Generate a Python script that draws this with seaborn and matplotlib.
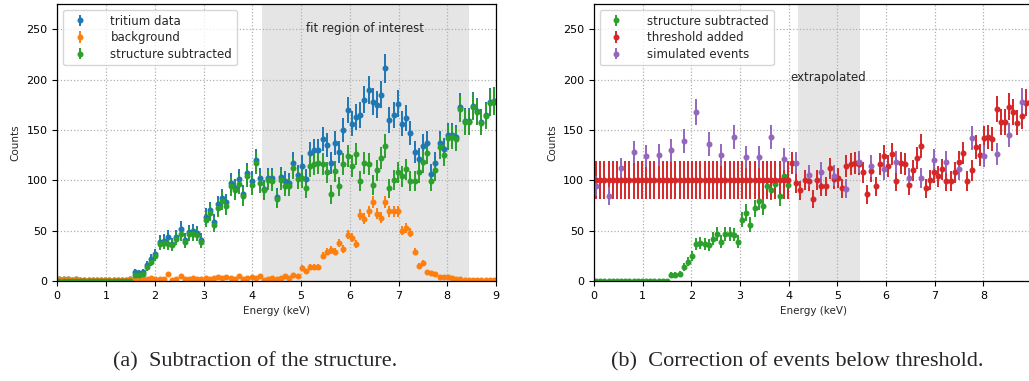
import numpy as np
import matplotlib
matplotlib.use("Agg")
import matplotlib.pyplot as plt
import seaborn as sns

# energy binning: 105 bins between 0 and 9 keV
bin_edges = np.linspace(0, 9, 106)
energy = 0.5 * (bin_edges[1:] + bin_edges[:-1])

tritium = [2, 2, 2, 1, 2, 1, 1, 1, 1, 1, 1, 1, 1, 1, 1, 1, 1, 2,
           9, 8, 9, 16, 22, 27, 39, 40, 44, 37, 44, 52,
           41, 49, 50, 48, 41, 64, 70, 59, 76, 82, 78, 97,
           92, 101, 86, 107, 99, 120, 102, 91, 102, 102, 83, 103,
           99, 97, 117, 105, 114, 101, 127, 130, 130, 141, 135, 117,
           137, 128, 150, 170, 156, 163, 165, 180, 190, 178, 175, 185,
           211, 160, 165, 176, 156, 162, 147, 128, 121, 134, 137, 106,
           117, 137, 131, 145, 145, 143, 173, 159, 159, 174, 169, 158,
           165, 178, 179]

background = [1.5, 2, 2, 1, 2, 1, 1, 1, 1, 1, 1, 1, 1, 1, 1, 1, 1, 2,
              3, 2, 2, 2, 3, 2, 2, 2, 7, 1, 2, 5,
              2, 2, 3, 2, 2, 3, 2, 3, 4, 3, 4, 3,
              2, 5, 2, 3, 4, 3, 5, 1, 2, 3, 2, 3,
              5, 3, 6, 5, 13, 10, 14, 14, 14, 25, 29, 31,
              29, 38, 32, 46, 43, 37, 66, 62, 69, 78, 67, 63,
              78, 69, 69, 69, 50, 53, 48, 29, 15, 18, 9, 8,
              7, 4, 4, 4, 3, 2, 2, 1, 1, 1, 1, 1,
              1, 1, 1]

subtracted = [0] * 18 + [
    6, 6, 7, 14, 19, 25, 37, 38, 37, 36, 42, 47,
    39, 47, 47, 46, 39, 61, 68, 56, 72, 79, 74, 94,
    90, 96, 84, 104, 95, 117, 97, 90, 100, 99, 81, 100,
    94, 94, 112, 101, 102, 92, 114, 116, 117, 116, 108, 86,
    109, 94, 116, 124, 114, 126, 99, 117, 116, 95, 110, 122,
    134, 92, 100, 108, 104, 111, 99, 99, 108, 118, 127, 99,
    110, 133, 125, 142, 143, 141, 171, 158, 158, 173, 168, 157,
    164, 177, 178]

# simulated events, every third bin
simulated = [94.5, 84.5, 112, 128, 124, 125, 130, 139, 168, 136, 125, 143,
             123, 123, 143, 121, 117, 105, 108, 104.5, 91.5, 118, 114, 111,
             118, 102, 102, 120, 118, 111, 142, 124, 126, 145, 178]

threshold_level = 100
threshold_err = 19
n_below = 47          # bins replaced by the flat threshold estimate

roi = (4.2, 8.45)
extrapolated = (4.2, 5.47)

tritium = np.array(tritium, dtype=float)
background = np.array(background, dtype=float)
subtracted = np.array(subtracted, dtype=float)
simulated = np.array(simulated, dtype=float)

threshold_added = np.concatenate([np.full(n_below, threshold_level), subtracted[n_below:]])
threshold_added_err = np.concatenate([np.full(n_below, threshold_err), np.sqrt(subtracted[n_below:])])

#######################################

# STYLE
sns.set_theme(style="ticks")
plt.rcParams['font.family'] = ['DejaVu Sans']
colors = sns.color_palette("tab10")
eb_kw = dict(fmt='o', markersize=3.3, elinewidth=1.4, capsize=0)

fig = plt.figure(figsize=(10.29, 3.81), dpi=100)
ax1 = fig.add_axes([57.25 / 1029, 100 / 381, 438.75 / 1029, 277 / 381])
ax2 = fig.add_axes([594 / 1029, 100 / 381, 438 / 1029, 277 / 381])

for ax in (ax1, ax2):
    ax.set_xlim(0, 9)
    ax.set_ylim(0, 275)
    ax.set_yticks(range(0, 251, 50))
    ax.grid(True, linestyle=':', color='#b0b0b0', linewidth=0.9)
    ax.set_axisbelow('line')
    ax.tick_params(labelsize=8, length=3.5, width=0.8, colors='black', direction='out')
    for s in ax.spines.values():
        s.set_linewidth(0.9)
        s.set_color('black')
    ax.set_xlabel("Energy (keV)", fontsize=7.5)
    ax.set_ylabel("Counts", fontsize=7.5)

# the right panel is cut at the page edge, so its last tick is not shown
ax1.set_xticks(range(10))
ax2.set_xticks(range(9))

# LEFT: subtraction of the structure
ax1.axvspan(*roi, color='gray', alpha=0.2, lw=0, zorder=1)
ax1.errorbar(energy, tritium, yerr=np.sqrt(tritium), color=colors[0], label="tritium data", **eb_kw)
ax1.errorbar(energy, background, yerr=np.sqrt(0.45 * background), color=colors[1], label="background", **eb_kw)
ax1.errorbar(energy, subtracted, yerr=np.sqrt(subtracted), color=colors[2], label="structure subtracted", **eb_kw)
ax1.text(6.31, 251, "fit region of interest", ha='center', va='center', fontsize=8.5)
ax1.legend(loc='upper left', fontsize=8.5, frameon=True, handletextpad=1.6, borderpad=0.4, labelspacing=0.3)

# RIGHT: correction of events below threshold
ax2.axvspan(*extrapolated, color='gray', alpha=0.2, lw=0, zorder=1)
ax2.errorbar(energy[:n_below], subtracted[:n_below], yerr=np.sqrt(subtracted[:n_below]),
             color=colors[2], label="structure subtracted", **eb_kw)
ax2.errorbar(energy, threshold_added, yerr=threshold_added_err, color=colors[3], label="threshold added", **eb_kw)
ax2.errorbar(energy[::3], simulated, yerr=np.sqrt(simulated), color=colors[4], label="simulated events", **eb_kw)
ax2.text(4.81, 202, "extrapolated", ha='center', va='center', fontsize=8.5)
ax2.legend(loc='upper left', fontsize=8.5, frameon=True, handletextpad=1.6, borderpad=0.4, labelspacing=0.3)

# captions
fig.text(255 / 1029, 19 / 381, "(a)  Subtraction of the structure.", ha='center', va='center',
         family='Liberation Serif', fontsize=16)
fig.text(797 / 1029, 19 / 381, "(b)  Correction of events below threshold.", ha='center', va='center',
         family='Liberation Serif', fontsize=16)

fig.savefig("out.png", dpi=100)
